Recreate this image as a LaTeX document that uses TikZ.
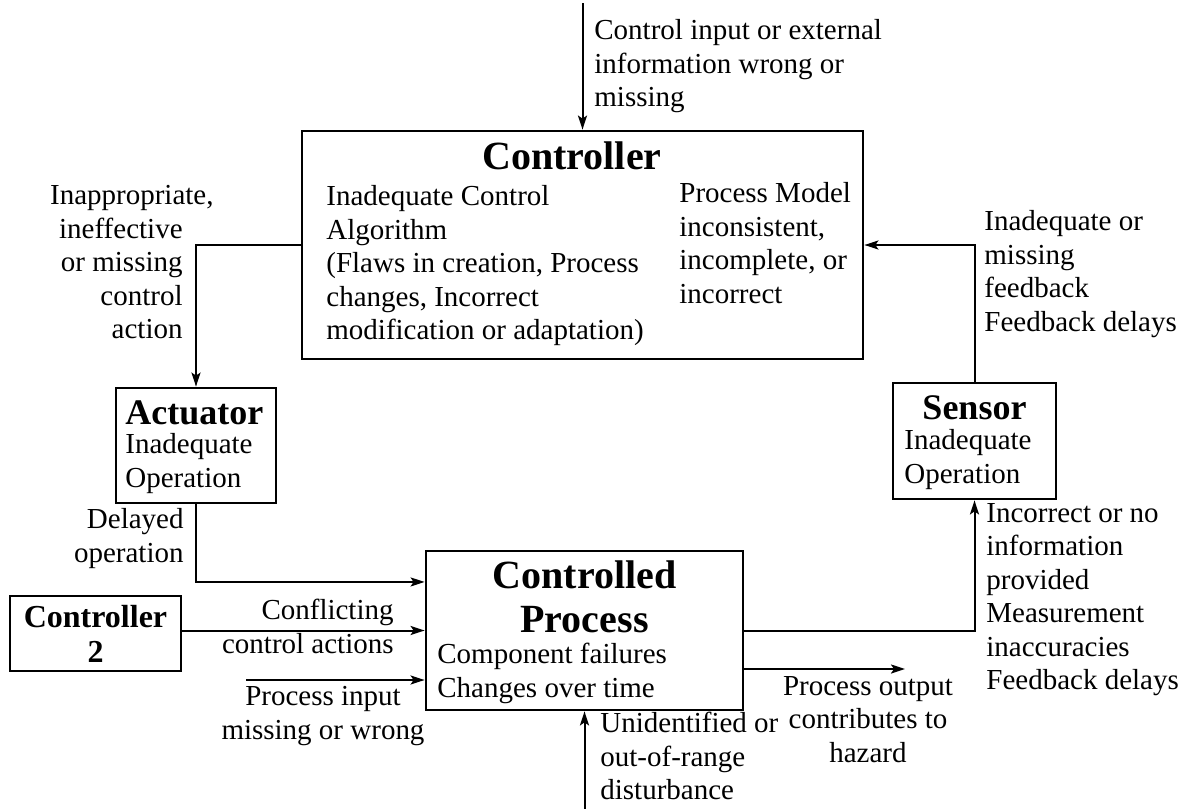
\documentclass[tikz,border=0pt]{standalone}
\usepackage{fontspec}
\setmainfont{Liberation Serif}
\usetikzlibrary{arrows.meta,calc}

\tikzset{
	box/.style={draw, line width=1.4pt, inner sep=0pt},
	txt/.style={inner sep=0pt, font=\fontsize{14.5}{16.75}\selectfont},
	ttl/.style={inner sep=0pt, font=\fontsize{20}{22}\selectfont\bfseries},
	subttl/.style={inner sep=0pt, font=\fontsize{18}{20}\selectfont\bfseries},
	smallttl/.style={inner sep=0pt, font=\fontsize{16}{17.5}\selectfont\bfseries},
	arr/.style={line width=1pt, -{Stealth[length=7pt,width=4.5pt,inset=1.5pt]}},
}

\begin{document}
\begin{tikzpicture}[x=0.5pt,y=-0.5pt]
		\useasboundingbox (0,0) rectangle (1191,809);

		\node[box, minimum width=280.5pt, minimum height=114pt] (ctrl) at (582.5,245) {};
		\node[box, minimum width=80pt, minimum height=57.5pt] (act) at (196,445.5) {};
		\node[box, minimum width=81.5pt, minimum height=58pt] (sens) at (974.5,441) {};
		\node[box, minimum width=85.5pt, minimum height=37.5pt] (ctrltwo) at (95.5,633.5) {};
		\node[box, minimum width=158.5pt, minimum height=79.5pt] (proc) at (584.5,630.5) {};

		\node[ttl] (ctrlttl) at (572,156) {Controller};
		\node[txt, anchor=north west, align=left] (alg) at (326,185) {Inadequate Control\\Algorithm\\(Flaws in creation, Process\\changes, Incorrect\\modification or adaptation)};
		\node[txt, anchor=north west, align=left] (model) at (679,182) {Process Model\\inconsistent,\\incomplete, or\\incorrect};

		\node[subttl, anchor=west] (actttl) at (125,413) {Actuator};
		\node[txt, anchor=north west, align=left] (actop) at (125,433) {Inadequate\\Operation};
		\node[subttl] (sensttl) at (974.5,408) {Sensor};
		\node[txt, anchor=north west, align=left] (sensop) at (904,429) {Inadequate\\Operation};
		\node[smallttl, align=center] (ctrltwottl) at (95.5,634) {Controller\\2};
		\node[ttl, anchor=north, align=center] (procttl) at (584.5,560) {Controlled\\Process};
		\node[txt, anchor=north west, align=left] (procfail) at (437,643) {Component failures\\Changes over time};

		\coordinate (cin) at (582.5,3);
		\coordinate (pin) at (246,680);
		\coordinate (pout) at (905,669);
		\coordinate (dist) at (584.5,809);

		\draw[arr] (cin) -- (ctrl.north);
		\draw[arr] (ctrl.west) -| (act.north);
		\draw[arr] (act.south) |- ($(proc.north west)!0.2!(proc.south west)$);
		\draw[arr] (ctrltwo.east |- proc.west) -- (proc.west);
		\draw[arr] (pin) -- (pin -| proc.west);
		\draw[arr] (proc.east) -| (sens.south);
		\draw[arr] (pout -| proc.east) -- (pout);
		\draw[arr] (dist) -- (proc.south);
		\draw[arr] (sens.north) |- (ctrl.east);

		\node[txt, anchor=north west, align=left] (cinlbl) at (594,19) {Control input or external\\information wrong or\\missing};
		\node[txt, anchor=north east, align=right] (actlbl) at (183,185) {Inappropriate,\kern-15.5pt\\ineffective\\or missing\\control\\action};
		\node[txt, anchor=north east, align=right] (dellbl) at (184,508) {Delayed\\operation};
		\node[txt, anchor=north east, align=right] (conflbl) at (394,599) {Conflicting\\control actions};
		\node[txt, anchor=north, align=center] (pinlbl) at (323,686) {Process input\\missing or wrong};
		\node[txt, anchor=north, align=center] (poutlbl) at (868,676) {Process output\\contributes to\\hazard};
		\node[txt, anchor=north west, align=left] (distlbl) at (600,712) {Unidentified or\\out-of-range\\disturbance};
		\node[txt, anchor=north west, align=left] (fblbl) at (984,210) {Inadequate or\\missing\\feedback\\Feedback delays};
		\node[txt, anchor=north west, align=left] (senslbl) at (986,503) {Incorrect or no\\information\\provided\\Measurement\\inaccuracies\\Feedback delays};
	\end{tikzpicture}
\end{document}
